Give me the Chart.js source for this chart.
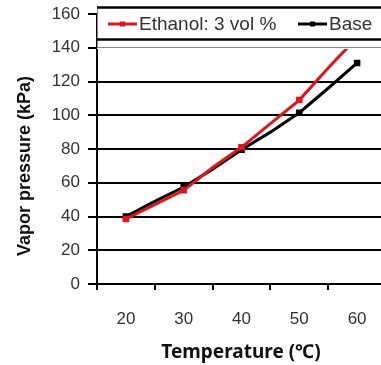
<!DOCTYPE html>
<html>
<head>
<meta charset="utf-8">
<script src="https://cdn.jsdelivr.net/npm/chart.js@4/dist/chart.umd.min.js"></script>
<style>
  html, body { margin: 0; padding: 0; background: #fff; overflow: hidden; }
  canvas { display: block; }
</style>
</head>
<body>
<canvas id="chart" width="393" height="365"></canvas>
<script>
// vapor pressure vs temperature
const temps = [20, 25, 30, 35, 40, 45, 50, 55, 60];
const ethanol = [38.5, 47, 55.5, 69, 81, 95, 109, 128, 146];
const base = [40, 49, 57.5, 68, 79.5, 90, 101.5, 116, 131];
const seriesNames = ["Ethanol: 3 vol %", "Base"];
const seriesColors = ["#e3121b", "#000000"];
const xTicks = [15, 20, 25, 30, 35, 40, 45, 50, 55, 60, 65];
const yTicks = [0, 20, 40, 60, 80, 100, 120, 140, 160];
const xTitle = "Temperature (℃)";
const yTitle = "Vapor pressure (kPa)";

const tickFont = { family: "'Liberation Sans', Arial, sans-serif", size: 17 };

function toPoints(arr) {
  return temps.map((t, i) => ({ x: t, y: arr[i] }));
}

// markers only on the 10-degree points
function markerRadius(ctx) {
  return ctx.raw && ctx.raw.x % 10 === 0 ? 2.5 : 0;
}

// legend box laid over the top of the plot + axis titles
const overlay = {
  id: "overlay",
  afterDraw(chart) {
    const ctx = chart.ctx;
    ctx.save();
    ctx.fillStyle = "#fff";
    ctx.fillRect(97, 7, 300, 42);
    ctx.strokeStyle = "#888";
    ctx.lineWidth = 1;
    ctx.beginPath();
    ctx.moveTo(97.5, 7);
    ctx.lineTo(97.5, 48);
    ctx.moveTo(97, 47.5);
    ctx.lineTo(393, 47.5);
    ctx.stroke();
    ctx.strokeStyle = "#000";
    ctx.lineWidth = 2.5;
    ctx.beginPath();
    ctx.moveTo(97, 7.5);
    ctx.lineTo(393, 7.5);
    ctx.moveTo(97, 39.5);
    ctx.lineTo(393, 39.5);
    ctx.stroke();

    const starts = [108, 298];
    ctx.font = "19px 'Liberation Sans', Arial, sans-serif";
    ctx.textBaseline = "middle";
    starts.forEach((x, i) => {
      ctx.strokeStyle = seriesColors[i];
      ctx.lineWidth = 3;
      ctx.beginPath();
      ctx.moveTo(x, 24);
      ctx.lineTo(x + 29, 24);
      ctx.stroke();
      ctx.fillStyle = seriesColors[i];
      ctx.fillRect(x + 12, 21.5, 5, 5);
      ctx.fillStyle = "#333";
      ctx.fillText(seriesNames[i], x + 31, 24.5);
    });

    // axis titles
    ctx.fillStyle = "#111";
    ctx.textAlign = "center";
    ctx.textBaseline = "middle";
    ctx.font = "bold 19px 'Noto Sans', 'Noto Sans CJK KR', sans-serif";
    ctx.fillText(xTitle, 241, 353);
    ctx.translate(25, 166);
    ctx.rotate(-Math.PI / 2);
    ctx.font = "bold 18px 'Liberation Sans', Arial, sans-serif";
    ctx.fillText(yTitle, 0, 0);
    ctx.restore();
  }
};

new Chart(document.getElementById("chart"), {
  type: "line",
  data: {
    datasets: [
      {
        label: seriesNames[0],
        data: toPoints(ethanol),
        borderColor: seriesColors[0],
        backgroundColor: seriesColors[0],
        borderWidth: 3,
        pointStyle: "rect",
        pointRadius: markerRadius,
        tension: 0
      },
      {
        label: seriesNames[1],
        data: toPoints(base),
        borderColor: seriesColors[1],
        backgroundColor: seriesColors[1],
        borderWidth: 3,
        pointStyle: "rect",
        pointRadius: markerRadius,
        tension: 0
      }
    ]
  },
  options: {
    responsive: false,
    animation: false,
    layout: { padding: { left: 0, top: 14, right: 1, bottom: 0 } },
    plugins: { legend: { display: false }, tooltip: { enabled: false } },
    scales: {
      x: {
        type: "linear",
        min: 15,
        max: 65,
        afterBuildTicks: s => { s.ticks = xTicks.map(v => ({ value: v })); },
        afterFit: s => { s.height = 81; s.paddingLeft = 0; s.paddingRight = 0; },
        border: { color: "#000", width: 2 },
        grid: {
          drawOnChartArea: false,
          tickLength: 6,
          lineWidth: 2,
          tickColor: c => (c.tick && c.tick.value % 10 === 5 ? "#000" : "rgba(0,0,0,0)")
        },
        ticks: {
          autoSkip: false,
          maxRotation: 0,
          padding: 19,
          color: "#333",
          font: tickFont,
          callback: v => (v % 10 === 0 ? v : "")
        }
      },
      y: {
        min: 0,
        max: 160,
        afterBuildTicks: s => { s.ticks = yTicks.map(v => ({ value: v })); },
        afterFit: s => { s.width = 97; s.paddingTop = 0; s.paddingBottom = 0; },
        border: { color: "#000", width: 2 },
        grid: { color: "#000", lineWidth: 2, tickLength: 9, tickColor: "#000" },
        ticks: { padding: 8, color: "#333", font: tickFont }
      }
    }
  },
  plugins: [overlay]
});
</script>
</body>
</html>
